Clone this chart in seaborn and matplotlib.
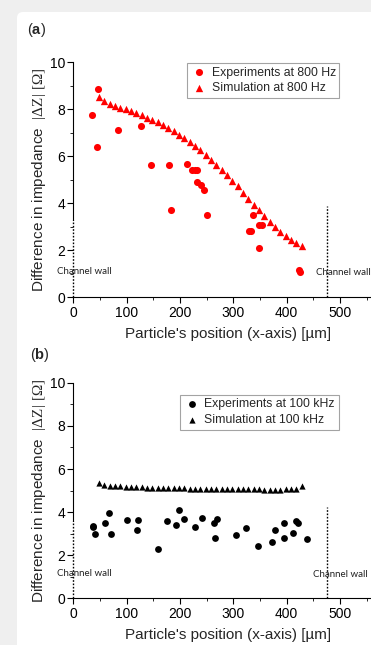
import matplotlib
matplotlib.use("Agg")
import numpy as np
import pandas as pd
import seaborn as sns
import matplotlib.pyplot as plt
from matplotlib.patches import FancyBboxPatch
from matplotlib.ticker import MultipleLocator

# ---------------- data ----------------
exp800_x = [35, 46, 45, 83, 127, 146, 179, 184, 214, 222.5, 227.5, 232.5, 232, 239,
            246, 251, 329, 333, 337, 348, 353, 349, 424, 425.5]
exp800_y = [7.75, 8.85, 6.4, 7.1, 7.27, 5.62, 5.62, 3.73, 5.69, 5.41, 5.41, 5.41, 4.91, 4.8,
            4.57, 3.49, 2.82, 2.82, 3.52, 3.09, 3.1, 2.1, 1.17, 1.07]

sim_x = [48, 58, 68, 78, 88, 98, 108, 118, 128, 138, 148, 158, 168, 178, 188, 198, 208,
         218, 228, 238, 248, 258, 268, 278, 288, 298, 308, 318, 328, 338, 348, 358, 368,
         378, 388, 398, 408, 418, 428]
sim800_y = [8.52, 8.35, 8.22, 8.15, 8.07, 8.0, 7.91, 7.84, 7.74, 7.64, 7.56, 7.44, 7.33,
            7.2, 7.07, 6.92, 6.76, 6.6, 6.43, 6.25, 6.05, 5.85, 5.64, 5.43, 5.2, 4.96, 4.72,
            4.46, 4.2, 3.95, 3.71, 3.47, 3.22, 3.0, 2.78, 2.61, 2.44, 2.32, 2.2]

exp100k_x = [36, 37.5, 41, 60, 66, 70, 101, 121, 119.5, 159, 175, 192, 198, 208, 228, 242,
             264, 269.5, 266, 306, 323, 346, 373, 379, 396, 395, 412.5, 418, 422, 437.5]
exp100k_y = [3.29, 3.36, 2.99, 3.52, 3.95, 2.99, 3.66, 3.63, 3.19, 2.31, 3.58, 3.41, 4.08,
             3.67, 3.29, 3.71, 3.52, 3.67, 2.8, 2.92, 3.26, 2.43, 2.64, 3.16, 3.52, 2.82,
             3.04, 3.61, 3.5, 2.76]

sim100k_y = [5.33, 5.27, 5.22, 5.2, 5.19, 5.18, 5.17, 5.16, 5.15, 5.14, 5.13, 5.12, 5.12,
             5.11, 5.11, 5.10, 5.10, 5.09, 5.09, 5.08, 5.08, 5.08, 5.07, 5.07, 5.07, 5.07,
             5.06, 5.06, 5.06, 5.06, 5.06, 5.05, 5.05, 5.05, 5.05, 5.06, 5.06, 5.08, 5.22]

x_ticks = [0, 100, 200, 300, 400, 500]
y_ticks = [0, 2, 4, 6, 8, 10]

xlabel = "Particle's position (x-axis) [µm]"
ylabel = r"Difference in impedance  $|\Delta\mathrm{Z}|$ $[\Omega]$"

# ---------------- style ----------------
sns.set_theme(style="ticks")
plt.rcParams["font.family"] = ["Liberation Sans", "DejaVu Sans"]
plt.rcParams["mathtext.fontset"] = "custom"
plt.rcParams["mathtext.rm"] = "Liberation Serif"
plt.rcParams["mathtext.it"] = "Liberation Serif:italic"
plt.rcParams["mathtext.bf"] = "Liberation Sans:bold"
plt.rcParams["axes.linewidth"] = 0.8

fig = plt.figure(figsize=(3.71, 6.45), dpi=100)
fig.patch.set_facecolor("#efefef")
card = FancyBboxPatch((0.17, -0.5), 4.0, 6.83, boxstyle="round,pad=0,rounding_size=0.06",
                      transform=fig.dpi_scale_trans, facecolor="white", edgecolor="none",
                      zorder=0)
fig.add_artist(card)

ax_a = fig.add_axes([0.1976, 0.5388, 0.8337, 0.3647])
ax_b = fig.add_axes([0.1976, 0.0721, 0.8337, 0.3346])

panels = [
    (ax_a, exp800_x, exp800_y, sim800_y, "red", "Experiments at 800 Hz", "Simulation at 800 Hz",
     3.3, 3.9, (-31, 1.1), (455, 1.08), (0.368, 0.997), 26, 28),
    (ax_b, exp100k_x, exp100k_y, sim100k_y, "black", "Experiments at 100 kHz",
     "Simulation at 100 kHz", 3.6, 4.25, (-31, 1.15), (450, 1.12), (0.345, 0.945), 24, 20),
]

for (ax, ex, ey, sy, col, lab_e, lab_s, wl, wr, tl, tr, lg, s_e, s_s) in panels:
    ax.set_facecolor("none")
    df_e = pd.DataFrame({"x": ex, "y": ey})
    df_s = pd.DataFrame({"x": sim_x, "y": sy})
    sns.scatterplot(data=df_e, x="x", y="y", ax=ax, marker="o", color=col, s=s_e,
                    linewidth=0, label=lab_e, zorder=3)
    sns.scatterplot(data=df_s, x="x", y="y", ax=ax, marker="^", color=col, s=s_s,
                    linewidth=0, label=lab_s, zorder=3)
    ax.set_xlim(0, 580)
    ax.set_ylim(0, 10)
    ax.set_xticks(x_ticks)
    ax.set_yticks(y_ticks)
    ax.xaxis.set_minor_locator(MultipleLocator(50))
    ax.yaxis.set_minor_locator(MultipleLocator(1))
    ax.tick_params(which="major", direction="out", length=4, width=0.8, labelsize=10,
                   pad=2, colors="black")
    ax.tick_params(which="minor", direction="out", length=2, width=0.7)
    for sp in ["top", "right"]:
        ax.spines[sp].set_visible(False)
    ax.spines["left"].set_bounds(wl, 10)
    ax.spines["left"].set_color("black")
    ax.spines["bottom"].set_color("black")
    ax.plot([0, 0], [0, wl], ls=(0, (1.2, 1.2)), color="black", lw=1.0, clip_on=False)
    ax.plot([476, 476], [0, wr], ls=(0, (1.2, 1.2)), color="black", lw=1.0, clip_on=False)
    ax.text(tl[0], tl[1], "Channel wall", fontsize=7, family=["Lato", "DejaVu Sans"],
            ha="left", va="center", color="#222222")
    ax.text(tr[0], tr[1], "Channel wall", fontsize=7, family=["Lato", "DejaVu Sans"],
            ha="left", va="center", color="#222222")
    ax.set_xlabel(xlabel, fontsize=11, labelpad=5)
    ax.set_ylabel(ylabel, fontsize=11, labelpad=1)
    leg = ax.legend(loc="upper left", bbox_to_anchor=lg, frameon=True, fancybox=False,
                    fontsize=8.8, handletextpad=0.4, handlelength=1.3, borderpad=0.3,
                    labelspacing=0.3, borderaxespad=0)
    leg.get_frame().set_edgecolor("#8c8c8c")
    leg.get_frame().set_linewidth(0.8)

fig.text(27 / 371, 1 - 30 / 645, r"($\mathbf{a}$)", fontsize=10.5, ha="left", va="center")
fig.text(30 / 371, 1 - 355 / 645, r"($\mathbf{b}$)", fontsize=10.5, ha="left", va="center")

fig.savefig("out.png", dpi=100, facecolor=fig.get_facecolor())
